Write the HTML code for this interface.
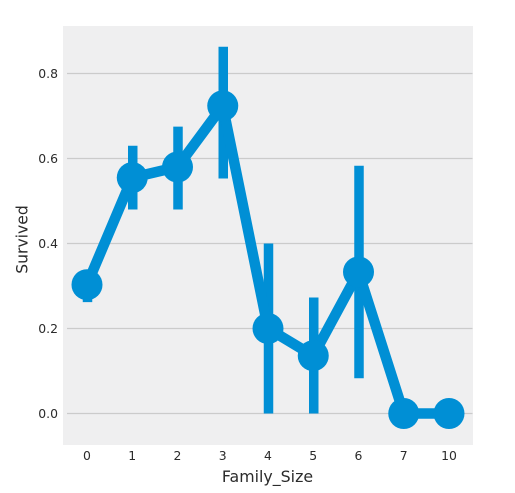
<!DOCTYPE html>
<html>
<head>
<meta charset="utf-8">
<style>
html,body{margin:0;padding:0;background:#fff;width:515px;height:493px;overflow:hidden}
svg{display:block;font-family:"DejaVu Sans",sans-serif;filter:blur(0.35px)}
</style>
</head>
<body>
<svg id="chart" width="515" height="493" viewBox="0 0 515 493" xmlns="http://www.w3.org/2000/svg">
<rect x="63" y="26" width="410" height="419" fill="#efeff0"/>
<g id="grid"></g>
<g id="yticks"></g>
<g id="xticks"></g>
<g id="marks"></g>
<text x="267.5" y="482" font-size="15.8" fill="#2b2b2b" text-anchor="middle">Family_Size</text>
<text transform="translate(27.5,239.5) rotate(-90)" font-size="15.6" fill="#2b2b2b" text-anchor="middle">Survived</text>
</svg>
<script>
const categories = ['0','1','2','3','4','5','6','7','10'];
const survivedMeans = [0.303,0.555,0.58,0.724,0.2,0.136,0.333,0,0];
const ciLow = [0.262,0.48,0.48,0.553,0,0,0.083,0,0];
const ciHigh = [0.335,0.63,0.675,0.863,0.4,0.273,0.583,0,0];
const yTickValues = [0,0.2,0.4,0.6,0.8];

const NS = 'http://www.w3.org/2000/svg';
const xScale = i => 87 + i * 45.25;
const yScale = v => 413.5 - v * 425;
function make(tag, attrs, parent) {
  const el = document.createElementNS(NS, tag);
  for (const k in attrs) el.setAttribute(k, attrs[k]);
  parent.appendChild(el);
  return el;
}
const grid = document.getElementById('grid');
const yticks = document.getElementById('yticks');
const xticks = document.getElementById('xticks');
const marks = document.getElementById('marks');

yTickValues.forEach(v => {
  const line = make('line', {x1: 67, x2: 472.5, y1: yScale(v), y2: yScale(v), stroke: '#cbcbcb', 'stroke-width': 1.2}, grid);
  
  
  const t = make('text', {x: 58, y: yScale(v) + 4.5, 'font-size': 12.4, fill: '#2b2b2b', 'text-anchor': 'end'}, yticks);
  
  
  t.textContent = v.toFixed(1);
});
categories.forEach((c, i) => {
  const t = make('text', {x: xScale(i), y: 460, 'font-size': 12.4, fill: '#2b2b2b', 'text-anchor': 'middle'}, xticks);
  
  
  t.textContent = c;
});
categories.forEach((c, i) => {
  if (ciHigh[i] === ciLow[i]) return;
  const bar = make('line', {x1: xScale(i) + 0.5, x2: xScale(i) + 0.5, y1: yScale(ciLow[i]), y2: yScale(ciHigh[i]), stroke: '#008fd5', 'stroke-width': 9.5}, marks);
  
  
});
const pts = survivedMeans.map((v, i) => xScale(i) + ',' + yScale(v)).join(' ');
const path = make('polyline', {points: pts, fill: 'none', stroke: '#008fd5', 'stroke-width': 10.5, 'stroke-linejoin': 'round'}, marks);


survivedMeans.forEach((v, i) => {
  const dot = make('circle', {cx: xScale(i), cy: yScale(v), r: 15.5, fill: '#008fd5'}, marks);
  
  
});
</script>
</body>
</html>
